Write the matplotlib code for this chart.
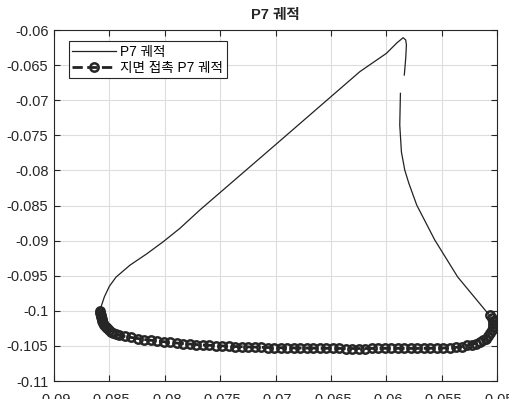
import numpy as np
import matplotlib
matplotlib.use("Agg")
import matplotlib.pyplot as plt

plt.rcParams['font.family'] = ['Liberation Sans', 'Noto Sans CJK KR', 'DejaVu Sans']

# P7 trajectory (NaN marks the gap in the curve)
traj_x = [-0.08585, -0.08545, -0.08500, -0.08440, -0.08314, -0.08164, -0.08014, -0.07863,
          -0.07683, -0.06961, -0.06239, -0.05998, -0.05905, -0.05848, -0.05824,
          -0.05818, -0.05824, -0.05837, np.nan,
          -0.05872, -0.05878, -0.05863, -0.05833, -0.05797, -0.05725, -0.05562,
          -0.05355, -0.05093, -0.05066]
traj_y = [-0.09989, -0.09800, -0.09650, -0.09520, -0.09350, -0.09190, -0.09016, -0.08825,
          -0.08564, -0.07581, -0.06594, -0.06332, -0.06185, -0.06110, -0.06142,
          -0.06214, -0.06399, -0.06641, np.nan,
          -0.06902, -0.07353, -0.07738, -0.07994, -0.08179, -0.08493, -0.08991,
          -0.09518, -0.10017, -0.10060]

# ground-contact part of the P7 trajectory
contact_x = [-0.08585, -0.08585, -0.08580, -0.08576, -0.08571, -0.08567, -0.08558,
             -0.08549, -0.08535, -0.08522, -0.08504, -0.08486, -0.08463, -0.08441,
             -0.08414,
             -0.08359, -0.08301, -0.08242, -0.08183, -0.08125, -0.08066, -0.08007,
             -0.07949, -0.07890, -0.07832, -0.07773, -0.07714, -0.07656, -0.07597,
             -0.07538, -0.07480, -0.07421, -0.07362, -0.07304, -0.07245, -0.07186,
             -0.07128, -0.07069, -0.07010, -0.06952, -0.06893, -0.06834, -0.06776,
             -0.06717, -0.06659, -0.06600, -0.06541, -0.06483, -0.06424, -0.06365,
             -0.06307, -0.06248, -0.06189, -0.06131, -0.06072, -0.06013, -0.05955,
             -0.05896, -0.05837, -0.05779, -0.05720, -0.05661, -0.05603, -0.05544,
             -0.05486, -0.05427, -0.05373,
             -0.05319, -0.05274, -0.05228, -0.05192, -0.05156, -0.05129, -0.05102,
             -0.05080, -0.05060, -0.05046, -0.05036, -0.05034, -0.05038, -0.05048,
             -0.05060]
contact_y = [-0.10003, -0.10031, -0.10060, -0.10088, -0.10117, -0.10145, -0.10174,
             -0.10202, -0.10231, -0.10252, -0.10274, -0.10295, -0.10316, -0.10330,
             -0.10345,
             -0.10366, -0.10380, -0.10395, -0.10409, -0.10420, -0.10430, -0.10440,
             -0.10450, -0.10459, -0.10466, -0.10473, -0.10480, -0.10487, -0.10491,
             -0.10496, -0.10500, -0.10504, -0.10509, -0.10511, -0.10514, -0.10517,
             -0.10520, -0.10523, -0.10524, -0.10526, -0.10527, -0.10529, -0.10530,
             -0.10531, -0.10532, -0.10533, -0.10534, -0.10535, -0.10536, -0.10537,
             -0.10537, -0.10537, -0.10537, -0.10536, -0.10536, -0.10535, -0.10535,
             -0.10535, -0.10535, -0.10536, -0.10536, -0.10535, -0.10534, -0.10533,
             -0.10530, -0.10526, -0.10520,
             -0.10509, -0.10494, -0.10480, -0.10466, -0.10444, -0.10423, -0.10395,
             -0.10359, -0.10316, -0.10274, -0.10231, -0.10188, -0.10145, -0.10103,
             -0.10060]

xticks = [-0.09, -0.085, -0.08, -0.075, -0.07, -0.065, -0.06, -0.055, -0.05]
yticks = [-0.11, -0.105, -0.1, -0.095, -0.09, -0.085, -0.08, -0.075, -0.07, -0.065, -0.06]

fig = plt.figure(figsize=(5.1, 3.99), dpi=100)
ax = fig.add_axes([0.1059, 0.0451, 0.8686, 0.8797])

ax.plot(traj_x, traj_y, color='#222222', lw=0.9, label='P7 궤적')
ax.plot(contact_x, contact_y, color='#222222', lw=2, ls='--', marker='o',
        markersize=6, markerfacecolor='none', markeredgewidth=1.8,
        markeredgecolor='#262626', label='지면 접촉 P7 궤적')

ax.set_xlim(-0.09, -0.05)
ax.set_ylim(-0.11, -0.06)
ax.set_xticks(xticks)
ax.set_yticks(yticks)
ax.set_xticklabels([('%g' % v) for v in xticks])
ax.set_yticklabels([('%g' % v) for v in yticks])
ax.grid(True, color='#dddddd', lw=0.8)
ax.set_axisbelow(True)
ax.tick_params(direction='in', length=4, top=True, right=True, labelsize=10.5,
               colors='#262626')
ax.tick_params(axis='x', pad=8.5)
ax.tick_params(axis='y', pad=4)
for s in ax.spines.values():
    s.set_color('#262626')
    s.set_linewidth(0.8)

ax.set_title('P7 궤적', fontsize=10.5, fontweight='bold', color='#262626', pad=8)

leg = ax.legend(loc='upper left', bbox_to_anchor=(0.034, 0.968), fontsize=9.8,
                handlelength=3.2, fancybox=False, framealpha=1,
                edgecolor='#262626', borderpad=0.25, labelspacing=0.15,
                handletextpad=0.3, borderaxespad=0)
leg.get_frame().set_linewidth(0.8)

fig.savefig('out.png', dpi=100)
